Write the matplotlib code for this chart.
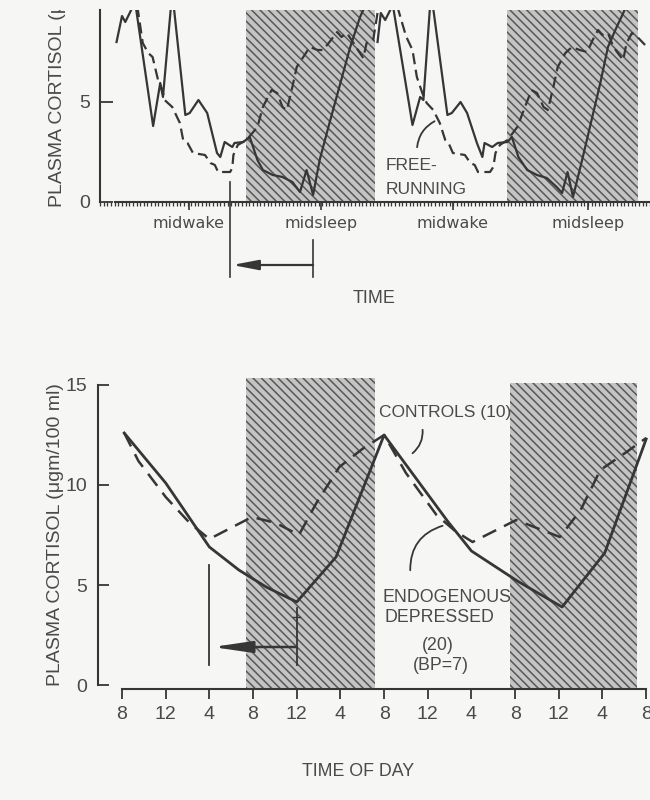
import matplotlib
matplotlib.use("Agg")
from matplotlib import pyplot as plt
from matplotlib.ticker import MultipleLocator
from matplotlib.transforms import Bbox, TransformedBbox

# ---- top panel: free-running subject (x in hours, double plotted) ----
top_solid1_h = [-0.5, 0.0, 0.3, 1.2, 2.85, 3.5, 3.75, 4.6, 5.8, 6.2, 7.0, 7.8, 8.7, 9.0, 9.4, 10.1, 10.3,
                11.1, 11.7, 12.4, 12.9, 13.8, 14.7, 15.6, 16.3, 16.9, 17.5, 18.1, 19.0, 20.0, 20.9, 21.8, 22.3]
top_solid1_v = [8.0, 9.3, 9.0, 10.0, 3.8, 5.95, 5.25, 10.5, 4.35, 4.45, 5.1, 4.45, 2.45, 2.25, 3.0, 2.75, 2.95,
                3.0, 3.25, 2.1, 1.6, 1.35, 1.25, 1.0, 0.5, 1.6, 0.35, 2.1, 3.95, 5.95, 7.75, 9.25, 9.85]
top_solid2_h = [23.4, 23.7, 24.1, 24.8, 26.6, 27.3, 27.6, 28.3, 29.8, 30.2, 31.0, 31.6, 32.5, 33.0, 33.2, 33.9,
                34.4, 35.3, 35.7, 36.3, 37.1, 38.0, 38.9, 39.8, 40.3, 40.8, 41.3, 42.2, 43.0, 43.8, 44.5, 45.3,
                45.9, 46.3]
top_solid2_v = [8.0, 9.45, 9.1, 9.85, 3.85, 5.25, 5.1, 10.5, 4.35, 4.45, 5.0, 4.45, 2.95, 2.25, 2.95, 2.75,
                2.95, 3.0, 3.25, 2.25, 1.6, 1.35, 1.2, 0.75, 0.45, 1.5, 0.25, 2.25, 4.1, 5.95, 7.75, 8.75,
                9.45, 9.95]
top_dash1_h = [1.4, 1.9, 2.4, 2.8, 3.3, 3.7, 3.9, 4.6, 5.3, 5.6, 6.0, 6.5, 7.6, 8.1, 8.5, 8.8, 9.9, 10.1, 10.2,
               10.6, 11.4, 12.4, 12.9, 13.7, 14.2, 14.7, 15.1, 15.6, 16.0, 16.6, 17.2, 17.9, 18.4, 19.0, 19.7,
               20.1, 20.6, 21.2, 21.6, 22.1, 22.4, 23.0, 23.4]
top_dash1_v = [9.8, 7.95, 7.45, 7.25, 6.1, 5.6, 5.1, 4.75, 3.95, 3.1, 2.95, 2.45, 2.35, 1.95, 1.85, 1.5, 1.5,
               1.7, 2.35, 2.85, 3.1, 3.75, 4.75, 5.6, 5.45, 4.75, 4.6, 5.75, 6.75, 7.25, 7.75, 7.6, 7.6, 8.0,
               8.5, 8.25, 8.45, 7.95, 7.6, 7.2, 7.95, 8.1, 9.45]
top_dash2_h = [25.2, 26.0, 26.6, 27.0, 27.5, 27.9, 28.5, 29.1, 29.6, 29.9, 30.3, 31.4, 31.9, 32.3, 32.6, 33.7,
               34.0, 34.2, 34.6, 35.3, 36.2, 36.9, 37.5, 38.0, 38.6, 39.0, 39.5, 39.9, 40.6, 41.2, 41.9, 42.6,
               43.1, 43.6, 44.0, 44.5, 45.0, 45.4, 45.9, 46.2, 46.7, 47.2, 47.9]
top_dash2_v = [9.8, 8.3, 7.6, 6.25, 5.45, 4.95, 4.6, 3.95, 3.1, 2.95, 2.45, 2.35, 1.95, 1.85, 1.5, 1.5, 1.75,
               2.45, 2.85, 3.1, 3.75, 4.75, 5.6, 5.45, 4.75, 4.6, 5.75, 6.75, 7.45, 7.75, 7.6, 7.5, 8.1, 8.6,
               8.35, 8.45, 7.75, 7.45, 7.1, 7.95, 8.45, 8.25, 7.85]
top_sleep = [(11.35, 23.15), (35.25, 47.25)]
top_ticks = [6.1, 18.2, 30.3, 42.7]
top_ticklabels = ['midwake', 'midsleep', 'midwake', 'midsleep']

# ---- bottom panel: group means, hours after 8 AM ----
ctrl_h = [0.2, 1.5, 4.0, 6.2, 8.0, 11.9, 14.1, 16.2, 17.8, 19.9, 22.0, 24.0, 26.0, 28.8, 30.5, 32.1, 36.1,
          40.1, 42.0, 43.8, 46.2, 48.0]
ctrl_v = [12.6, 11.2, 9.4, 8.1, 7.3, 8.4, 8.1, 7.5, 9.1, 10.9, 11.8, 12.5, 10.6, 8.5, 7.7, 7.15, 8.25, 7.4,
          8.75, 10.75, 11.65, 12.35]
dep_h = [0.2, 4.0, 8.0, 10.7, 13.2, 16.0, 19.6, 24.0, 29.8, 32.0, 36.2, 40.3, 44.2, 48.0]
dep_v = [12.6, 10.1, 6.9, 5.75, 4.9, 4.15, 6.4, 12.5, 8.2, 6.7, 5.2, 3.9, 6.6, 12.3]
bot_sleep = [(11.35, 23.15, 15.35), (35.5, 47.15, 15.1)]
bot_ticks = list(range(0, 49, 4))
bot_ticklabels = ['8', '12', '4', '8', '12', '4', '8', '12', '4', '8', '12', '4', '8']

BG = '#f6f6f4'
INK = '#363636'
TXT = '#4a4a4a'
FONT = ['Liberation Sans', 'DejaVu Sans']
plt.rcParams['hatch.linewidth'] = 1.1

fig = plt.figure(figsize=(6.5, 8), dpi=100, facecolor=BG)

def fx(px):
    return px / 650.0

def fy(py):
    return 1 - py / 800.0

def shade(ax, x0, x1, y0, y1):
    ax.fill_between([x0, x1], y0, y1, facecolor='#c4c4c4', edgecolor='#575757',
                    hatch='\\\\\\\\', linewidth=0, zorder=1)

# ================= top panel =================
top = fig.add_axes([fx(100), fy(202), fx(550), 192 / 800.0])
top.set_facecolor('none')
top.set_xlim(-2.015, 48.35)
top.set_ylim(0, 9.6)
for a, b in top_sleep:
    shade(top, a, b, 0, 12)
top.plot(top_solid1_h, top_solid1_v, color=INK, lw=1.6, zorder=3)
top.plot(top_solid2_h, top_solid2_v, color=INK, lw=1.6, zorder=3)
top.plot(top_dash1_h, top_dash1_v, color=INK, lw=1.6, ls=(0, (5, 2.5)), zorder=3)
top.plot(top_dash2_h, top_dash2_v, color=INK, lw=1.6, ls=(0, (5, 2.5)), zorder=3)

for s in ['top', 'right']:
    top.spines[s].set_visible(False)
top.spines['left'].set_bounds(0, 9.6)
top.spines['bottom'].set_bounds(-0.65, 48.35)
for s in ['left', 'bottom']:
    top.spines[s].set_color(INK)
    top.spines[s].set_linewidth(1.5)
top.set_yticks([0, 5])
top.set_yticklabels(['0', '5'], family=FONT)
top.tick_params(axis='y', direction='in', length=9, width=1.3, colors=INK, labelcolor=TXT,
                labelsize=14, pad=7)
top.set_xticks(top_ticks)
top.set_xticklabels(top_ticklabels, fontsize=11.5, color=TXT)
top.xaxis.set_minor_locator(MultipleLocator(1 / 3))
top.tick_params(axis='x', which='major', direction='out', length=6, width=1.2, colors=INK,
                labelcolor=TXT, pad=4)
top.tick_params(axis='x', which='minor', direction='out', length=3, width=0.9, colors=INK)

top.text(24.1, 1.85, 'FREE-', fontsize=12.5, family=FONT, color=TXT, va='center', ha='left', zorder=4)
top.text(24.1, 0.6, 'RUNNING', fontsize=12.5, family=FONT, color=TXT, va='center', ha='left', zorder=4)
top.annotate('', xy=(28.85, 4.1), xytext=(27.0, 2.6),
             arrowprops=dict(arrowstyle='-', color=INK, lw=1.3, connectionstyle='arc3,rad=-0.3'))

# phase shift marker below the axis
top.plot([9.9, 9.9], [1.0, -3.75], color=INK, lw=1.2, clip_on=False)
top.plot([17.5, 17.5], [-1.9, -3.75], color=INK, lw=1.2, clip_on=False)
top.annotate('', xy=(10.1, -3.15), xytext=(17.5, -3.15), annotation_clip=False,
             arrowprops=dict(arrowstyle='-|>,head_length=1.3,head_width=0.25', mutation_scale=12,
                             color=INK, lw=1.6, shrinkA=0, shrinkB=0))

fig.text(fx(374), fy(298), 'TIME', fontsize=13, family=FONT, color=TXT, ha='center', va='center')
ylab = fig.text(fx(58), fy(207), 'PLASMA CORTISOL (μgm/100 ml)', fontsize=14, family=FONT,
                color=TXT, rotation=90, ha='center', va='bottom')
ylab.set_clip_box(TransformedBbox(Bbox([[0, 0], [1, fy(10)]]), fig.transFigure))
ylab.set_clip_on(True)

# ================= bottom panel =================
bot = fig.add_axes([fx(98), fy(689), fx(552), 312 / 800.0])
bot.set_facecolor('none')
bot.set_xlim(-2.2, 48.35)
bot.set_ylim(-0.2, 15.4)
for a, b, t in bot_sleep:
    shade(bot, a, b, -0.2, t)
bot.plot(dep_h, dep_v, color=INK, lw=2.0, zorder=3)
bot.plot(ctrl_h, ctrl_v, color=INK, lw=1.8, ls=(0, (6, 3.5)), zorder=3)

for s in ['top', 'right']:
    bot.spines[s].set_visible(False)
bot.spines['left'].set_bounds(0, 15)
bot.spines['bottom'].set_bounds(0, 48)
for s in ['left', 'bottom']:
    bot.spines[s].set_color(INK)
    bot.spines[s].set_linewidth(1.5)
bot.set_yticks([0, 5, 10, 15])
bot.set_yticklabels(['0', '5', '10', '15'], family=FONT)
bot.tick_params(axis='y', direction='in', length=8, width=1.3, colors=INK, labelcolor=TXT,
                labelsize=14, pad=8)
bot.set_xticks(bot_ticks)
bot.set_xticklabels(bot_ticklabels, family=FONT)
bot.tick_params(axis='x', direction='out', length=7, width=1.3, colors=INK, labelcolor=TXT,
                labelsize=14, pad=5)

bot.text(29.6, 13.6, 'CONTROLS (10)', fontsize=12.5, family=FONT, color=TXT, ha='center', va='center')
bot.annotate('', xy=(26.4, 11.5), xytext=(27.5, 12.9),
             arrowprops=dict(arrowstyle='-', color=INK, lw=1.3, connectionstyle='arc3,rad=-0.3'))
bot.text(23.85, 4.4, 'ENDOGENOUS', fontsize=12.8, family=FONT, color=TXT, ha='left', va='center')
bot.text(24.0, 3.4, 'DEPRESSED', fontsize=12.8, family=FONT, color=TXT, ha='left', va='center')
bot.text(28.9, 2.0, '(20)', fontsize=12.8, family=FONT, color=TXT, ha='center', va='center')
bot.text(29.2, 1.0, '(BP=7)', fontsize=12.8, family=FONT, color=TXT, ha='center', va='center')
bot.annotate('', xy=(29.6, 8.0), xytext=(26.4, 5.6),
             arrowprops=dict(arrowstyle='-', color=INK, lw=1.3, connectionstyle='arc3,rad=-0.4'))

# phase shift marker
bot.plot([8, 8], [6.0, 1.0], color=INK, lw=1.3, zorder=4)
bot.plot([16, 16], [3.85, 1.0], color=INK, lw=1.3, zorder=4)
bot.plot([15.7, 16.3], [3.4, 3.4], color=INK, lw=1.0, zorder=4)
bot.annotate('', xy=(8.3, 1.9), xytext=(16, 1.9),
             arrowprops=dict(arrowstyle='-|>,head_length=1.7,head_width=0.25', mutation_scale=14,
                             color=INK, lw=1.8, shrinkA=0, shrinkB=0), zorder=4)

fig.text(fx(358), fy(772), 'TIME OF DAY', fontsize=12.8, family=FONT, color=TXT, ha='center', va='center')
fig.text(fx(56), fy(535), 'PLASMA CORTISOL (μgm/100 ml)', fontsize=14, family=FONT, color=TXT,
         rotation=90, ha='center', va='center')

fig.savefig('out.png', dpi=100, facecolor=BG)
